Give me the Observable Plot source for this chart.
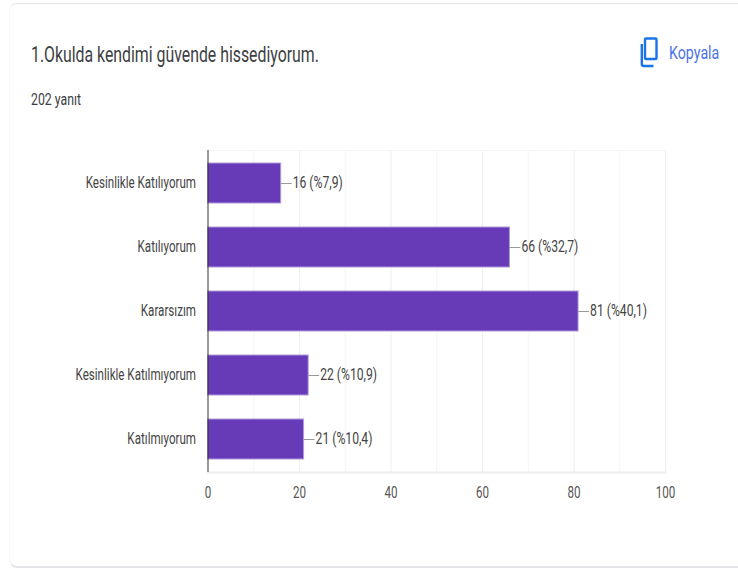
<!DOCTYPE html>
<html>
<head>
<meta charset="utf-8">
<script src="https://cdn.jsdelivr.net/npm/d3@7"></script>
<script src="https://cdn.jsdelivr.net/npm/@observablehq/plot@0.6"></script>
<style>
html,body{margin:0;padding:0;background:#fff;width:738px;height:570px;overflow:hidden}
body{position:relative;font-family:"Roboto",sans-serif}
#card{position:absolute;left:9px;top:3px;width:760px;height:565px;border-top:1px solid #e2e2e2;border-bottom:2px solid #e4e6ea;border-left:1px solid #f8f8f8;border-radius:8px;box-sizing:border-box}
.t{position:absolute;white-space:nowrap;transform-origin:0 50%}
#title{left:31px;top:42px;font-size:22px;line-height:26px;color:#3c4043;transform:scaleX(.72)}
#sub{left:31px;top:90px;font-size:16px;line-height:20px;color:#3c4043;transform:scaleX(.77)}
#copy{left:669px;top:43px;font-size:18px;line-height:20px;color:#4a73e8;transform:scaleX(.79)}
#icon{position:absolute;left:640px;top:36px}
#chart{position:absolute;left:0;top:130px}
</style>
</head>
<body>
<div id="card"></div>
<div id="title" class="t">1.Okulda kendimi güvende hissediyorum.</div>
<div id="sub" class="t">202 yanıt</div>
<svg id="icon" width="18" height="32" viewBox="0 0 18 32"><path d="M6 2.5h9.5a1 1 0 0 1 1 1V22a1 1 0 0 1-1 1H6a1 1 0 0 1-1-1V3.5a1 1 0 0 1 1-1z" fill="none" stroke="#1a73e8" stroke-width="2.4"/><path d="M1.8 8v20a2 2 0 0 0 2 2h9.7" fill="none" stroke="#1a73e8" stroke-width="2.4"/></svg>
<div id="copy" class="t">Kopyala</div>
<div id="chart"></div>
<script>
const categories = ["Kesinlikle Katılıyorum", "Katılıyorum", "Kararsızım", "Kesinlikle Katılmıyorum", "Katılmıyorum"];
const counts = [16, 66, 81, 22, 21];
const valueLabels = ["16 (%7,9)", "66 (%32,7)", "81 (%40,1)", "22 (%10,9)", "21 (%10,4)"];
const majorTicks = [0, 20, 40, 60, 80, 100];
const minorTicks = [10, 30, 50, 70, 90];
const leader = 2.4;

const rows = categories.map((c, i) => ({category: c, count: counts[i], label: valueLabels[i]}));

const plot = Plot.plot({
  width: 738,
  height: 400,
  marginTop: 20,
  marginBottom: 58,
  marginLeft: 207.5,
  marginRight: 73,
  style: {fontFamily: "Roboto,sans-serif", background: "transparent", overflow: "visible"},
  x: {domain: [0, 100], label: null},
  y: {domain: categories, paddingInner: 0.375, paddingOuter: 0.1875, align: 0.5, label: null},
  marks: [
    Plot.ruleX(minorTicks, {stroke: "#f5f5f5", strokeWidth: 1}),
    Plot.ruleX(majorTicks.slice(1), {stroke: "#efefef", strokeWidth: 1}),
    Plot.frame({anchor: "top", stroke: "#f5f5f5"}),
    Plot.frame({anchor: "bottom", stroke: "#eeeeee", strokeWidth: 2}),
    Plot.barX(rows, {x: "count", y: "category", fill: "#673ab7", stroke: "#b09ade", strokeWidth: 1}),
    Plot.ruleX([0], {stroke: "#333333", strokeWidth: 1}),
    Plot.ruleY(rows, {y: "category", x1: "count", x2: d => d.count + leader, stroke: "#9a9a9a", strokeWidth: 1}),
    Plot.text(rows, {x: d => d.count + leader, y: "category", text: "label", textAnchor: "start", dx: 0.5, dy: -1, fontSize: 16, fill: "#444444", className: "vals"}),
    Plot.axisX({ticks: majorTicks, tickSize: 0, tickPadding: 14, fontSize: 16, fill: "#555555", label: null}),
    Plot.axisY({tickSize: 0, tickPadding: 12, dy: -1, fontSize: 16, fill: "#444444", label: null})
  ]
});
document.getElementById("chart").appendChild(plot);
plot.querySelectorAll("text").forEach(t => {
  const n = t.getComputedTextLength();
  const isValue = t.closest(".vals") !== null;
  t.setAttribute("textLength", n * (isValue ? 0.76 : 0.725));
  t.setAttribute("lengthAdjust", "spacingAndGlyphs");
});
</script>
</body>
</html>
